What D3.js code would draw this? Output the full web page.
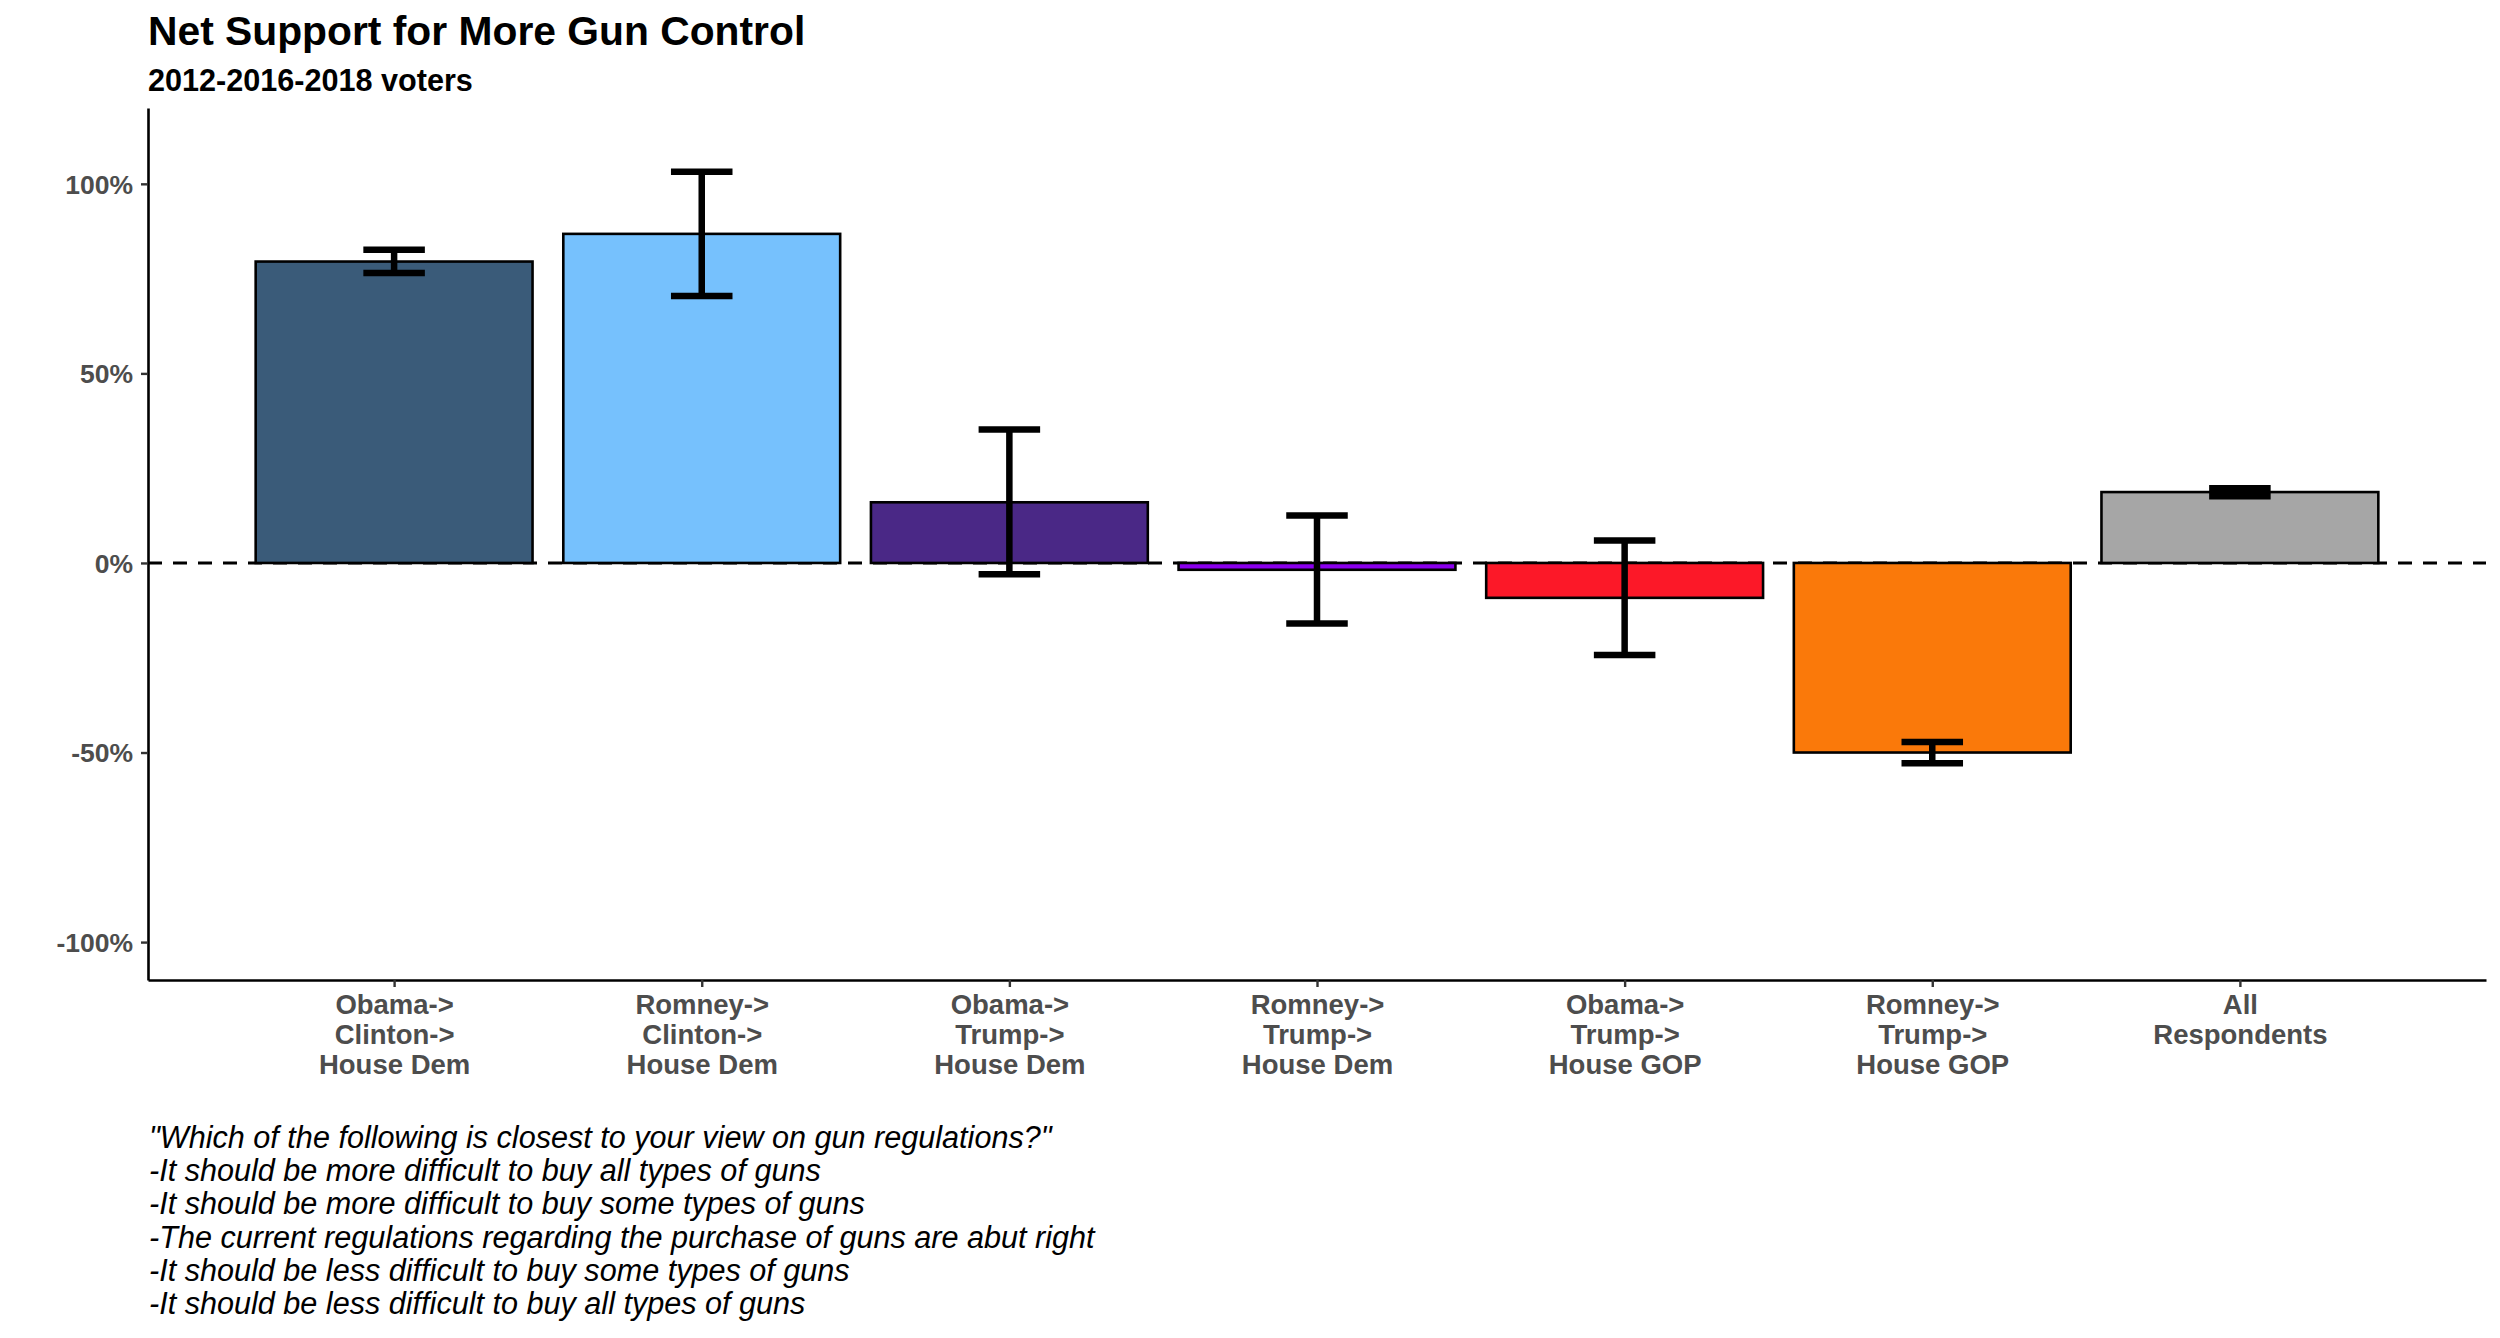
<!DOCTYPE html>
<meta charset="utf-8">
<style>
body { margin: 0; background: #fff; }
svg { display: block; font-family: "Liberation Sans", Arial, Helvetica, sans-serif; }
.axis .tick text { fill: #4d4d4d; font-weight: bold; font-size: 26.5px; }
.axis.x .tick text { font-size: 27.5px; }
.axis .tick line { stroke: #333; stroke-width: 2.4; }
.axis .domain { stroke: #000; stroke-width: 2.6; }
</style>
<svg width="2500" height="1338"></svg>

<script src="https://d3js.org/d3.v7.min.js"></script>
<script>
'use strict';

// groups of 2012-2016-2018 voters
var groups = [
  "Obama->\nClinton->\nHouse Dem",
  "Romney->\nClinton->\nHouse Dem",
  "Obama->\nTrump->\nHouse Dem",
  "Romney->\nTrump->\nHouse Dem",
  "Obama->\nTrump->\nHouse GOP",
  "Romney->\nTrump->\nHouse GOP",
  "All\nRespondents"
];
var netSupport = [0.795, 0.868, 0.160, -0.018, -0.092, -0.500, 0.187];
var lowerCI    = [0.765, 0.704, -0.030, -0.160, -0.243, -0.528, 0.176];
var upperCI    = [0.826, 1.032, 0.352, 0.125, 0.059, -0.472, 0.197];
var barColors  = ["#3a5b79", "#76c1fd", "#4a2886", "#8b00ee", "#fc1828", "#fa790a", "#a6a6a6"];
var yTicks     = [-1, -0.5, 0, 0.5, 1];

var captionLines = [
  "\"Which of the following is closest to your view on gun regulations?\"",
  "-It should be more difficult to buy all types of guns",
  "-It should be more difficult to buy some types of guns",
  "-The current regulations regarding the purchase of guns are abut right",
  "-It should be less difficult to buy some types of guns",
  "-It should be less difficult to buy all types of guns"
];

var rows = groups.map(function(g, i) {
  return { group: g, value: netSupport[i], lo: lowerCI[i], hi: upperCI[i], color: barColors[i] };
});

var svg = d3.select("svg");
var margin = { left: 148, right: 2486, top: 108, bottom: 980 };

var x = d3.scalePoint()
    .domain(groups)
    .range([margin.left, margin.right])
    .padding(0.8);

var y = d3.scaleLinear()
    .domain([-1.1, 1.2])
    .range([margin.bottom, margin.top]);

var barW = x.step() * 0.9;
var capW = x.step() * 0.2;

// zero reference line
svg.append("line")
    .attr("x1", margin.left).attr("x2", margin.right)
    .attr("y1", y(0)).attr("y2", y(0))
    .attr("stroke", "#000")
    .attr("stroke-width", 3)
    .attr("stroke-dasharray", "14,11");

// bars
svg.append("g").selectAll("rect")
  .data(rows)
  .enter().append("rect")
    .attr("x", function(d) { return x(d.group) - barW / 2; })
    .attr("y", function(d) { return y(Math.max(0, d.value)); })
    .attr("width", barW)
    .attr("height", function(d) { return Math.abs(y(d.value) - y(0)); })
    .attr("fill", function(d) { return d.color; })
    .attr("stroke", "#000")
    .attr("stroke-width", 2.6);

// error bars
var eb = svg.append("g").selectAll("g")
  .data(rows)
  .enter().append("g")
    .attr("stroke", "#000")
    .attr("stroke-width", 6.5);

eb.append("line")
    .attr("x1", function(d) { return x(d.group); })
    .attr("x2", function(d) { return x(d.group); })
    .attr("y1", function(d) { return y(d.hi); })
    .attr("y2", function(d) { return y(d.lo); });

eb.append("line")
    .attr("x1", function(d) { return x(d.group) - capW / 2; })
    .attr("x2", function(d) { return x(d.group) + capW / 2; })
    .attr("y1", function(d) { return y(d.hi); })
    .attr("y2", function(d) { return y(d.hi); });

eb.append("line")
    .attr("x1", function(d) { return x(d.group) - capW / 2; })
    .attr("x2", function(d) { return x(d.group) + capW / 2; })
    .attr("y1", function(d) { return y(d.lo); })
    .attr("y2", function(d) { return y(d.lo); });

// axes
svg.append("g")
    .attr("class", "axis y")
    .attr("transform", "translate(" + margin.left + ",0)")
    .call(d3.axisLeft(y).tickValues(yTicks).tickSize(7).tickSizeOuter(0).tickPadding(8)
      .tickFormat(function(d) { return Math.round(d * 100) + "%"; }))
    .selectAll(".tick text")
    .attr("dy", "0.35em");

var xAxis = svg.append("g")
    .attr("class", "axis x")
    .attr("transform", "translate(0," + margin.bottom + ")")
    .call(d3.axisBottom(x).tickSize(7).tickSizeOuter(0));

xAxis.selectAll(".tick text")
    .text(null)
    .attr("y", 0)
    .attr("dy", null)
    .each(function(d) {
      var t = d3.select(this);
      d.split("\n").forEach(function(line, i) {
        t.append("tspan").attr("x", 0).attr("y", 34 + i * 30).text(line);
      });
    });

// titles
svg.append("text")
    .attr("x", margin.left).attr("y", 45)
    .attr("font-size", 40.8).attr("font-weight", "bold")
    .text("Net Support for More Gun Control");

svg.append("text")
    .attr("x", margin.left).attr("y", 91)
    .attr("font-size", 30.6).attr("font-weight", "bold")
    .text("2012-2016-2018 voters");

// caption
svg.append("g").selectAll("text")
  .data(captionLines)
  .enter().append("text")
    .attr("x", 149)
    .attr("y", function(d, i) { return 1148 + i * 33.2; })
    .attr("font-size", 30.6)
    .attr("font-style", "italic")
    .text(function(d) { return d; });
</script>
